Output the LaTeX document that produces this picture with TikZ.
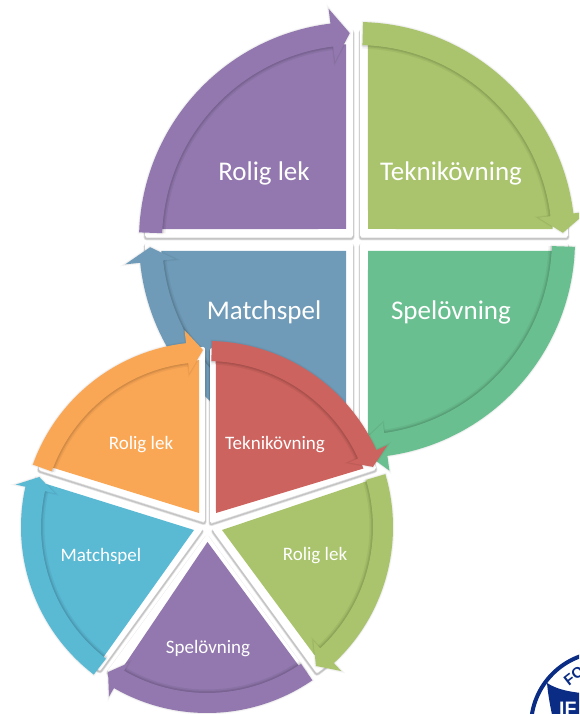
\documentclass[tikz,border=0pt]{standalone}
\usepackage{fontspec}
\setmainfont{Carlito}
\newfontfamily\logofont{Liberation Sans}
\usetikzlibrary{calc}
\definecolor{cPurple}{HTML}{9278AE}
\definecolor{cGreen}{HTML}{A9C46C}
\definecolor{cBlue}{HTML}{6F9BB8}
\definecolor{cSea}{HTML}{6ABF90}
\definecolor{cOrange}{HTML}{FAA755}
\definecolor{cRed}{HTML}{CC635E}
\definecolor{cCyan}{HTML}{5AB9D3}
\definecolor{cLogo}{HTML}{0A2C84}
\tikzset{
  softshadow/.style={preaction={draw=black,draw opacity=.03,line width=3pt},
                     preaction={draw=black,draw opacity=.04,line width=1.5pt}},
  panel/.style={fill=white,rounded corners=2pt,line join=round,
    preaction={draw=black,draw opacity=.10,line width=3pt,transform canvas={yshift=-2pt}},
    preaction={draw=black,draw opacity=.14,line width=1.5pt,transform canvas={yshift=-2pt}}},
  bigtext/.style={text=white,font=\fontsize{27}{32}\selectfont,inner sep=0pt},
  smalltext/.style={text=white,font=\fontsize{19}{23}\selectfont,inner sep=0pt},
}
% colour, start angle, end angle, outer r, inner r, outer wing r, inner wing r, tip angle, tip r
\newcommand\band[9]{%
  \draw[black,draw opacity=.05,line width=4pt] (#2:#5-1.5) arc[start angle=#2,end angle=#3,radius=#5-1.5];
  \draw[black,draw opacity=.06,line width=2pt] (#2:#5-1) arc[start angle=#2,end angle=#3,radius=#5-1];
  \path[fill=#1,softshadow] (#2:#4) arc[start angle=#2,end angle=#3,radius=#4]
     -- (#3:#6) -- (#8:#9) -- (#3:#7) -- (#3:#5)
     arc[start angle=#3,end angle=#2,radius=#5] -- cycle;}
% apex, colour, start angle, end angle, radius (polar about the scope's centre)
\newcommand\sector[5]{\fill[#2] (#1) -- (#3:#5) arc[start angle=#3,end angle=#4,radius=#5] -- cycle;}
\newcommand\plate[5]{\path[panel] (#1,#2) -- ++(#3:#5) arc[start angle=#3,end angle=#4,radius=#5] -- cycle;}
\begin{document}
\begin{tikzpicture}[x=1pt,y=1pt]
\useasboundingbox (0,0) rectangle (579,714);
\clip (0,0) rectangle (579,714);
\coordinate (tc) at (357,474);
\coordinate (lc) at (207,187);
% upper diagram: plates
\plate{353}{477}{180}{90}{208}
\plate{360}{477}{90}{0}{208}
\plate{353}{471}{180}{270}{208}
\plate{360}{471}{360}{270}{208}
\begin{scope}[shift={(tc)}]
  \coordinate (ap1) at (-11,11);
  \coordinate (ap2) at (11,11);
  \coordinate (ap3) at (-11,-11);
  \coordinate (ap4) at (11,-11);
  \sector{ap1}{cPurple}{176.8}{93.2}{196}
  \sector{ap2}{cGreen}{86.8}{3.2}{196}
  \sector{ap3}{cBlue}{183.2}{266.8}{196}
  \sector{ap4}{cSea}{-3.2}{-86.8}{196}
  \band{cBlue}{268}{186}{218}{195}{233}{183}{182}{207}
  \band{cSea}{-1.8}{-82}{218}{195}{233}{185}{-90}{207}
  \band{cPurple}{178}{97}{218}{195}{233}{180}{92}{207}
  \band{cGreen}{88.4}{7}{218}{195}{232}{183}{2}{206}
\end{scope}
\node[bigtext] (t1) at (264,541) {Rolig lek};
\node[bigtext] (t2) at (451,541) {Teknikövning};
\node[bigtext] (t3) at (264,402) {Matchspel};
\node[bigtext] (t4) at (451,402) {Spelövning};
% lower diagram: plates
\plate{205}{192}{162.5}{90}{175}
\plate{210}{191}{90}{18}{175}
\plate{212}{185}{17}{-54}{178}
\plate{207}{180}{-54}{-126}{170}
\plate{203}{185}{-126}{-198}{175}
\begin{scope}[shift={(lc)}]
  \coordinate (bp1) at (-8,14);
  \coordinate (bp2) at (9,14);
  \coordinate (bp3) at (15,-3);
  \coordinate (bp4) at (0.5,-15);
  \coordinate (bp5) at (-13,-3);
  \sector{bp1}{cOrange}{159}{92.7}{167}
  \sector{bp2}{cRed}{87}{20.5}{167}
  \sector{bp3}{cGreen}{16}{-50}{167}
  \sector{bp4}{cPurple}{-56.5}{-121}{167}
  \sector{bp5}{cCyan}{231.5}{165}{167}
  \band{cGreen}{16.5}{-47}{186}{166}{197}{156}{-51.9}{176.6}
  \band{cPurple}{-55.5}{-120}{186}{166}{196}{157}{-124.3}{175.6}
  \band{cCyan}{232.5}{167.5}{186}{166}{196}{156}{163.4}{175}
  \band{cOrange}{160.3}{96.5}{185}{165}{198}{155}{91.3}{177}
  \band{cRed}{88.5}{24.4}{186}{166}{198}{156}{19.9}{176.5}
\end{scope}
\node[smalltext] (b1) at (141,269) {Rolig lek};
\node[smalltext] (b2) at (275,269) {Teknikövning};
\node[smalltext] (b3) at (101,158) {Matchspel};
\node[smalltext] (b4) at (315,158) {Rolig lek};
\node[smalltext] (b5) at (208,65) {Spelövning};
% logo, cut by the page edge
\coordinate (logoc) at (605,-12);
\draw[cLogo,line width=4pt] (logoc) circle[radius=74];
\fill[cLogo] (547,31) .. controls (558,24) and (570,22) .. (590,20) -- (590,-5) -- (553,-5) .. controls (550,8) and (548,20) .. (547,31) -- cycle;
\node[text=cLogo,font=\logofont\bfseries\fontsize{15}{18}\selectfont,rotate=38,inner sep=0pt] (lg1) at (574,38) {FO};
\node[text=white,font=\logofont\bfseries\fontsize{19.5}{23}\selectfont,anchor=base west,inner sep=0pt] (lg2) at (559,-2) {IF};
\end{tikzpicture}
\end{document}
